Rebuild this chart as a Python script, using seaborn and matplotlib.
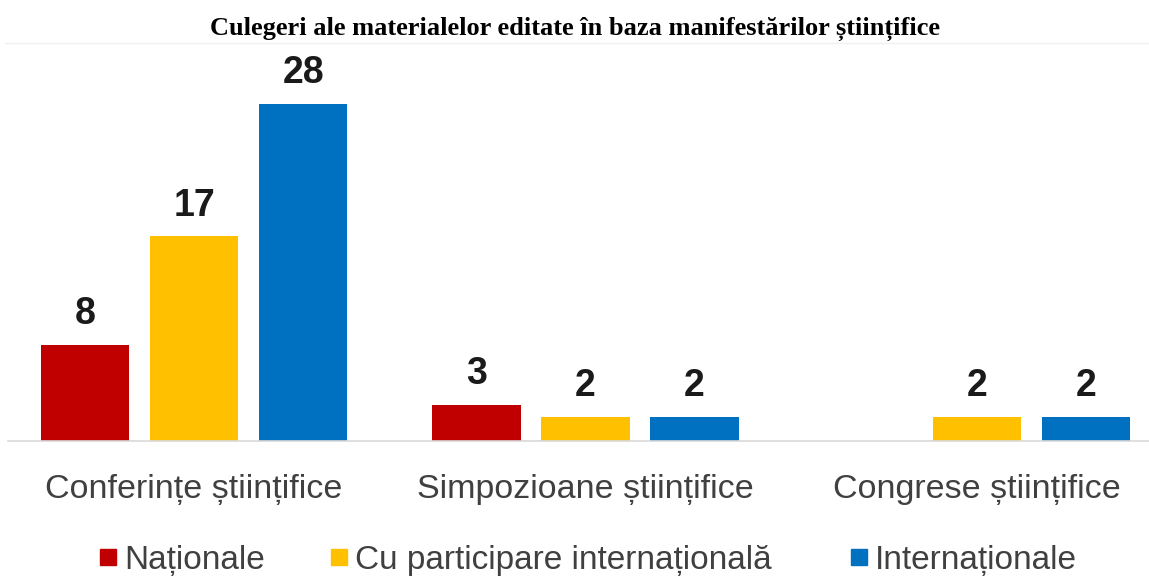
import matplotlib
matplotlib.use("Agg")
import matplotlib.pyplot as plt
from matplotlib.lines import Line2D
import seaborn as sns
import pandas as pd

categories = ["Conferințe științifice", "Simpozioane științifice", "Congrese științifice"]
series_names = ["Naționale", "Cu participare internațională", "Internaționale"]
nationale = [8, 3, 0]
cu_participare = [17, 2, 2]
internationale = [28, 2, 2]
colors = ["#C00000", "#FFC000", "#0070C0"]
title = "Culegeri ale materialelor editate în baza manifestărilor științifice"

rows = []
for name, vals in zip(series_names, [nationale, cu_participare, internationale]):
    for cat, v in zip(categories, vals):
        rows.append({"cat": cat, "serie": name, "val": v})
df = pd.DataFrame(rows)

sns.set_theme(style="white")
plt.rcParams["font.family"] = ["Liberation Sans", "DejaVu Sans"]

W, H = 1149, 576
fig = plt.figure(figsize=(W / 100, H / 100), dpi=100)
ax_left, ax_right = 8, 1149
ax_bottom_px, ax_top_px = 441, 50
ax = fig.add_axes([ax_left / W, (H - ax_bottom_px) / H,
                   (ax_right - ax_left) / W, (ax_bottom_px - ax_top_px) / H])

sns.barplot(data=df, x="cat", y="val", hue="serie", order=categories,
            hue_order=series_names, palette=colors, width=0.836, gap=0.19,
            linewidth=0, saturation=1, ax=ax, legend=False)

for cont, name in zip(ax.containers, series_names):
    labs = [("" if v == 0 else f"{int(v)}") for v in df[df.serie == name]["val"]]
    ax.bar_label(cont, labels=labs, padding=9, fontsize=27, fontweight="bold",
                 color="#1a1a1a")

spacing = 391.5
ax.set_xlim(-(194 - ax_left) / spacing, 2 + (ax_right - 977) / spacing)
ax.set_ylim(0, (ax_bottom_px - ax_top_px) / 12.04)
ax.set_yticks([])
ax.set_xlabel("")
ax.set_ylabel("")
for s in ["left", "right", "top"]:
    ax.spines[s].set_visible(False)
ax.spines["bottom"].set_color("#d9d9d9")
ax.spines["bottom"].set_linewidth(1.2)
ax.tick_params(axis="x", length=0, pad=24, labelsize=24.5, labelcolor="#404040")

# faint separator under title
fig.add_artist(Line2D([5 / W, 1], [(H - 43) / H] * 2, color="#f0f0f0", lw=1))

fig.text(0.5, (H - 29) / H, title, ha="center", va="center",
         fontsize=19, fontweight="bold", family=["Liberation Serif", "DejaVu Serif"],
         color="black")

leg_x = [102, 333, 853]
for name, c, x in zip(series_names, colors, leg_x):
    h = Line2D([], [], marker="s", color=c, linestyle="none", markersize=12)
    fig.legend([h], [name], loc="center left", bbox_to_anchor=((x - 3) / W, (H - 560) / H),
               frameon=False, fontsize=24, labelcolor="#404040", handlelength=0.55,
               handletextpad=0.2, borderpad=0, borderaxespad=0)

fig.savefig("out.png", dpi=100)
